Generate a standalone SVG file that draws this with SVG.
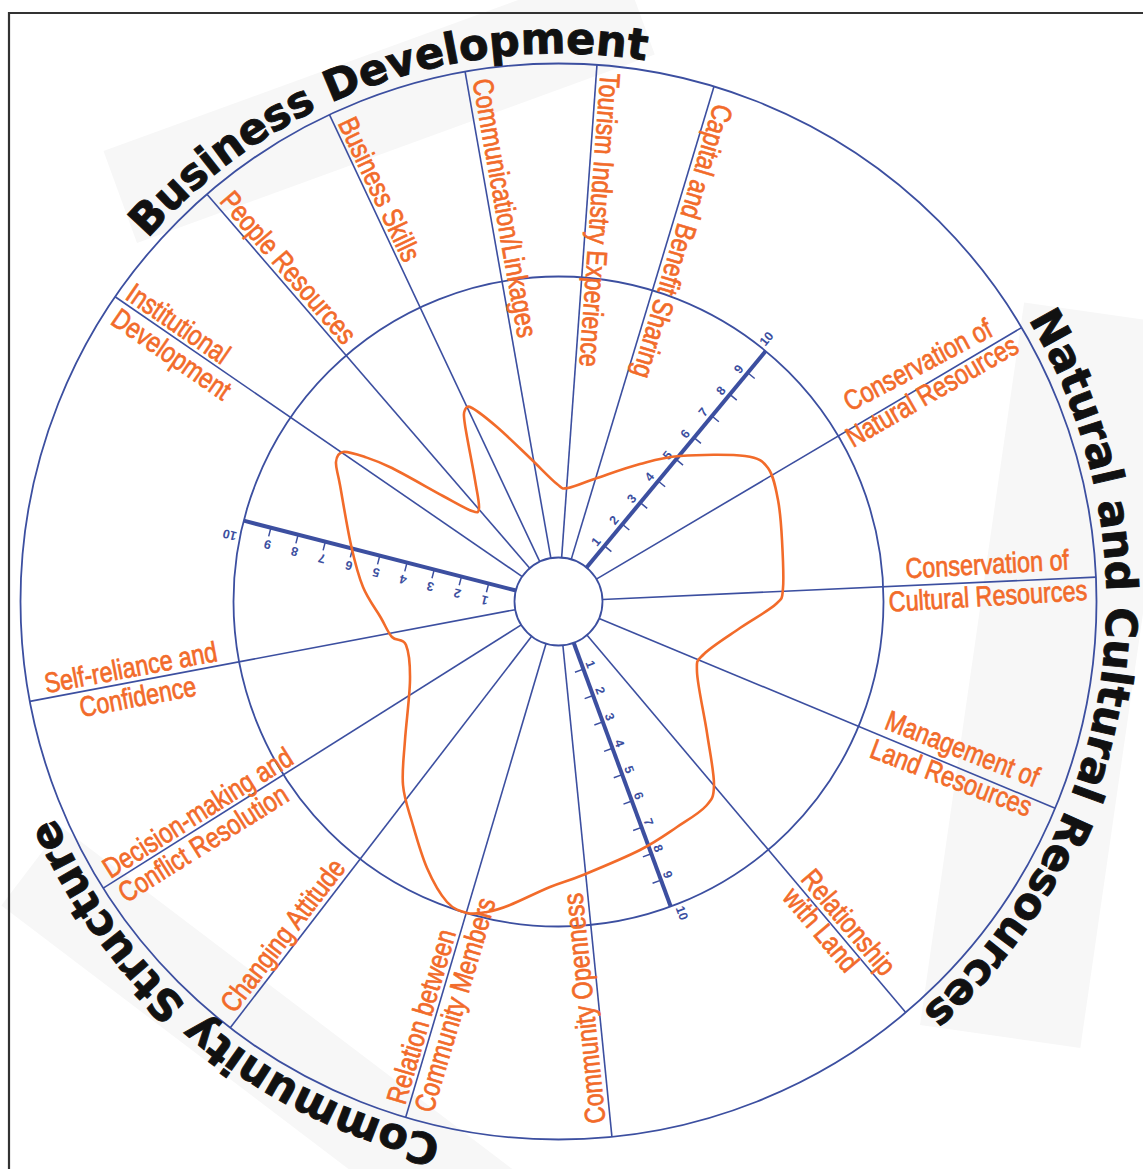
<svg xmlns="http://www.w3.org/2000/svg" width="1143" height="1169" viewBox="0 0 1143 1169">
<style>
.ring{fill:none;stroke:#3c4fa0;stroke-width:1.8}
.spoke{stroke:#3c4fa0;stroke-width:1.6}
.axis{stroke:#3c4fa0;stroke-width:4}
.tick{stroke:#3c4fa0;stroke-width:1.5}
.num{font-family:"Liberation Sans",Arial,sans-serif;font-size:12.5px;font-weight:bold;fill:#3c4fa0;text-anchor:middle}
.lbl{font-family:"Liberation Sans",Arial,sans-serif;font-size:28.5px;fill:#f26b2a;stroke:#f26b2a;stroke-width:0.7}
.title{font-family:"DejaVu Sans",Verdana,sans-serif;font-weight:bold;font-size:43px;fill:#111;stroke:#111;stroke-width:0.9}
.band{fill:#f7f7f7}
.radar{fill:none;stroke:#f26b2a;stroke-width:2.6;stroke-linejoin:round}
</style>
<defs>
<path id="arcBD" d="M43.5,414.1 A548,548 0 0 1 832.5,126.9"/>
<path id="arcNC" d="M978.3,249.3 A548,548 0 0 1 832.5,1076.1"/>
<path id="arcCS" d="M558.5,1149.5 A548,548 0 0 1 18.8,506.3"/>
</defs>
<rect width="1143" height="1169" fill="#fff"/>
<g id="bands">
<rect class="band" x="137" y="145" width="551" height="98" transform="rotate(-20 137 243)"/>
<rect class="band" x="920" y="295" width="162" height="730" transform="rotate(8.2 920 1025)"/>
<rect class="band" x="-260" y="480" width="580" height="99" transform="translate(558.5,601.5) rotate(37.2)"/>
</g>
<path d="M9,1169 V13 H1143" fill="none" stroke="#333" stroke-width="2.2"/>
<g id="rings">
<circle class="ring" cx="558.5" cy="601.5" r="538"/>
<circle class="ring" cx="558.5" cy="601.5" r="325"/>
<circle class="ring" cx="558.5" cy="601.5" r="44"/>
</g>
<g id="connectors" transform="translate(558.5,601.5)">
<line class="spoke" x1="44" y1="0" x2="538" y2="0" transform="rotate(214.5)"/>
<line class="spoke" x1="44" y1="0" x2="538" y2="0" transform="rotate(229.2)"/>
<line class="spoke" x1="44" y1="0" x2="538" y2="0" transform="rotate(244.8)"/>
<line class="spoke" x1="44" y1="0" x2="538" y2="0" transform="rotate(260)"/>
<line class="spoke" x1="44" y1="0" x2="538" y2="0" transform="rotate(274.1)"/>
<line class="spoke" x1="44" y1="0" x2="538" y2="0" transform="rotate(286.8)"/>
<line class="spoke" x1="44" y1="0" x2="538" y2="0" transform="rotate(329.4)"/>
<line class="spoke" x1="44" y1="0" x2="538" y2="0" transform="rotate(357.4)"/>
<line class="spoke" x1="44" y1="0" x2="538" y2="0" transform="rotate(22.6)"/>
<line class="spoke" x1="44" y1="0" x2="538" y2="0" transform="rotate(49.8)"/>
<line class="spoke" x1="44" y1="0" x2="538" y2="0" transform="rotate(84.3)"/>
<line class="spoke" x1="44" y1="0" x2="538" y2="0" transform="rotate(106.5)"/>
<line class="spoke" x1="44" y1="0" x2="538" y2="0" transform="rotate(127.6)"/>
<line class="spoke" x1="44" y1="0" x2="538" y2="0" transform="rotate(147.8)"/>
<line class="spoke" x1="44" y1="0" x2="538" y2="0" transform="rotate(169.3)"/>
</g>
<g id="axis-ur" transform="translate(558.5,601.5) rotate(-50.4)">
<line class="axis" x1="44" y1="0" x2="325" y2="0"/>
<path class="tick" d="M72.1,0v9M100.2,0v9M128.3,0v9M156.4,0v9M184.5,0v9M212.6,0v9M240.7,0v9M268.8,0v9M296.9,0v9"/>
<text class="num" x="70" y="-5">1</text><text class="num" x="98" y="-5">2</text><text class="num" x="126" y="-5">3</text><text class="num" x="154" y="-5">4</text><text class="num" x="182" y="-5">5</text><text class="num" x="210" y="-5">6</text><text class="num" x="238" y="-5">7</text><text class="num" x="266" y="-5">8</text><text class="num" x="294" y="-5">9</text><text class="num" x="335" y="-3">10</text>
</g>
<g id="axis-left" transform="translate(558.5,601.5) rotate(194.4)">
<line class="axis" x1="44" y1="0" x2="325" y2="0"/>
<path class="tick" d="M72.1,0v-9M100.2,0v-9M128.3,0v-9M156.4,0v-9M184.5,0v-9M212.6,0v-9M240.7,0v-9M268.8,0v-9M296.9,0v-9"/>
<text class="num" x="72" y="-13">1</text><text class="num" x="100" y="-13">2</text><text class="num" x="128" y="-13">3</text><text class="num" x="156" y="-13">4</text><text class="num" x="184" y="-13">5</text><text class="num" x="212" y="-13">6</text><text class="num" x="240" y="-13">7</text><text class="num" x="268" y="-13">8</text><text class="num" x="296" y="-13">9</text><text class="num" x="335" y="-13">10</text>
</g>
<g id="axis-bottom" transform="translate(558.5,601.5) rotate(69.8)">
<line class="axis" x1="44" y1="0" x2="325" y2="0"/>
<path class="tick" d="M72.1,0v9M100.2,0v9M128.3,0v9M156.4,0v9M184.5,0v9M212.6,0v9M240.7,0v9M268.8,0v9M296.9,0v9"/>
<text class="num" x="70" y="-4">1</text><text class="num" x="98" y="-4">2</text><text class="num" x="126" y="-4">3</text><text class="num" x="154" y="-4">4</text><text class="num" x="182" y="-4">5</text><text class="num" x="210" y="-4">6</text><text class="num" x="238" y="-4">7</text><text class="num" x="266" y="-4">8</text><text class="num" x="294" y="-4">9</text><text class="num" x="335" y="-4">10</text>
</g>
<g id="radar">
<path class="radar" d="M343,452 C347.8,451.2 356.8,454.3 365,457 C373.2,459.7 379,461.5 392,468 C405,474.5 429.7,488.8 443,496 C456.3,503.2 466,509 472,511 C478,513 478.5,513.2 479,508 C479.5,502.8 477.3,493.8 475,480 C472.7,466.2 466.7,436.7 465,425 C463.3,413.3 463.8,412.8 465,410 C466.2,407.2 466.7,405.2 472,408 C477.3,410.8 487.3,418.7 497,427 C506.7,435.3 520,448.5 530,458 C540,467.5 550.7,479 557,484 C563.3,489 561.3,489 568,488 C574.7,487 585,482 597,478 C609,474 626.2,467.7 640,464 C653.8,460.3 662.5,457.3 680,456 C697.5,454.7 730.3,454 745,456 C759.7,458 762.5,460.7 768,468 C773.5,475.3 775.7,488 778,500 C780.3,512 781.2,525.3 782,540 C782.8,554.7 784,577.3 783,588 C782,598.7 783.2,597.3 776,604 C768.8,610.7 752,619.7 740,628 C728,636.3 711.2,646.7 704,654 C696.8,661.3 696.5,658.8 697,672 C697.5,685.2 704.2,714.2 707,733 C709.8,751.8 714.2,772.8 714,785 C713.8,797.2 712.2,799 706,806 C699.8,813 688,819.7 677,827 C666,834.3 655.7,842 640,850 C624.3,858 598,868.8 583,875 C568,881.2 562.2,882 550,887 C537.8,892 520.5,900.8 510,905 C499.5,909.2 494.2,910.7 487,912 C479.8,913.3 473.7,914.7 467,913 C460.3,911.3 453.7,909.5 447,902 C440.3,894.5 432.8,881.3 427,868 C421.2,854.7 416,835.8 412,822 C408,808.2 404.2,798.7 403,785 C401.8,771.3 403.8,757.5 405,740 C406.2,722.5 409.8,695.8 410,680 C410.2,664.2 409,652.2 406,645 C403,637.8 396.2,641.5 392,637 C387.8,632.5 385.8,626.3 381,618 C376.2,609.7 368,599.2 363,587 C358,574.8 354.8,562 351,545 C347.2,528 342.5,498.8 340,485 C337.5,471.2 335.5,467.5 336,462 C336.5,456.5 338.2,452.8 343,452 Z"/>
</g>
<g id="labels">
<g id="n-institutional"><text class="lbl" transform="translate(124.1,298.2) rotate(34.5) scale(0.82,1)">Institutional</text><text class="lbl" transform="translate(109.3,323.3) rotate(34.5) scale(0.82,1)">Development</text></g>
<g id="n-people"><text class="lbl" transform="translate(218.7,201.5) rotate(49.2) scale(0.82,1)">People Resources</text></g>
<g id="n-bskills"><text class="lbl" transform="translate(337.6,122.9) rotate(64.8) scale(0.82,1)">Business Skills</text></g>
<g id="n-comm"><text class="lbl" transform="translate(472.5,80.4) rotate(80) scale(0.82,1)">Communication/Linkages</text></g>
<g id="n-tourism"><text class="lbl" transform="translate(600.5,72.4) rotate(94.1) scale(0.82,1)">Tourism Industry Experience</text></g>
<g id="n-capital"><text class="lbl" transform="translate(714.4,102.4) rotate(106.8) scale(0.82,1)">Capital and Benefit Sharing</text></g>
<g id="n-natural"><text class="lbl" transform="translate(850,412) rotate(-28) scale(0.82,1)">Conservation of</text><text class="lbl" transform="translate(853,448) rotate(-30) scale(0.82,1)">Natural Resources</text></g>
<g id="n-cultural"><text class="lbl" transform="translate(906,578.3) rotate(-3.1) scale(0.82,1)">Conservation of</text><text class="lbl" transform="translate(889.3,611.7) rotate(-3.4) scale(0.82,1)">Cultural Resources</text></g>
<g id="n-land"><text class="lbl" transform="translate(883.3,728.3) rotate(21.3) scale(0.82,1)">Management of</text><text class="lbl" transform="translate(868.3,756.7) rotate(20.7) scale(0.82,1)">Land Resources</text></g>
<g id="n-relland"><text class="lbl" transform="translate(799.7,879.5) rotate(49.8) scale(0.82,1)">Relationship</text><text class="lbl" transform="translate(781.2,897.7) rotate(49.8) scale(0.82,1)">with Land</text></g>
<g id="n-openness"><text class="lbl" transform="translate(605.4,1122.4) rotate(-95.7) scale(0.82,1)">Community Openness</text></g>
<g id="n-relation"><text class="lbl" transform="translate(405,1105.8) rotate(-73.5) scale(0.82,1)">Relation between</text><text class="lbl" transform="translate(432.8,1114) rotate(-73.5) scale(0.82,1)">Community Members</text></g>
<g id="n-attitude"><text class="lbl" transform="translate(234.2,1014.3) rotate(-52.4) scale(0.82,1)">Changing Attitude</text></g>
<g id="n-decision"><text class="lbl" transform="translate(110.6,879) rotate(-32.2) scale(0.82,1)">Decision-making and</text><text class="lbl" transform="translate(126,903.6) rotate(-32.2) scale(0.82,1)">Conflict Resolution</text></g>
<g id="n-selfreliance"><text class="lbl" transform="translate(46.4,693.3) rotate(-10.7) scale(0.82,1)">Self-reliance and</text><text class="lbl" transform="translate(81.5,717.2) rotate(-10.7) scale(0.82,1)">Confidence</text></g>
</g>
<g id="titles">
<text class="title"><textPath href="#arcBD" startOffset="205">Business Development</textPath></text>
<text class="title"><textPath href="#arcNC" startOffset="86.1">Natural and Cultural Resources</textPath></text>
<text class="title"><textPath href="#arcCS" startOffset="118">Community Structure</textPath></text>
</g>
</svg>
